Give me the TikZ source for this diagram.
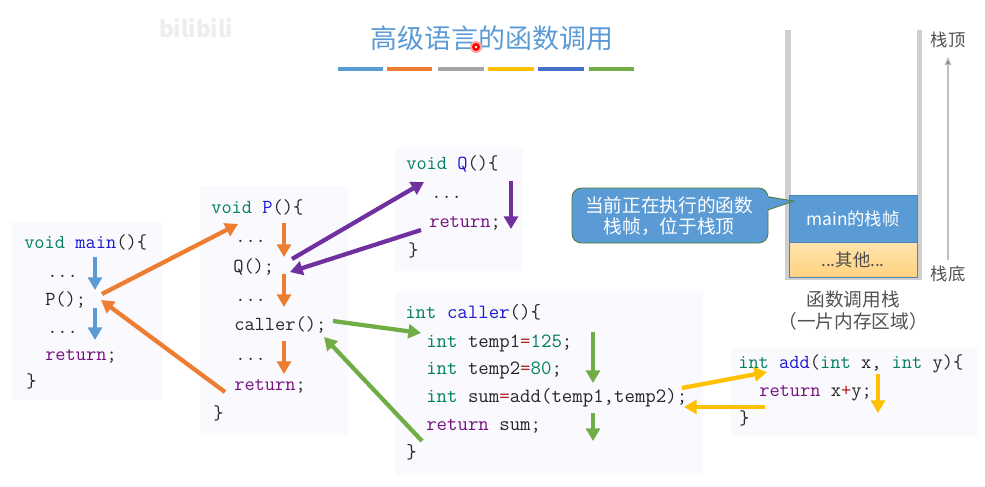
\documentclass[tikz,border=0pt]{standalone}
\usepackage{xcolor}
\usepackage{fontspec}
\setmainfont{Noto Sans CJK SC}
\usepackage{tikz}
\usetikzlibrary{arrows.meta}
\definecolor{cblue}{HTML}{5B9BD5}
\definecolor{corange}{HTML}{ED7D31}
\definecolor{cgray}{HTML}{A5A5A5}
\definecolor{cyellow}{HTML}{FFC000}
\definecolor{cdeep}{HTML}{4472C4}
\definecolor{cgreen}{HTML}{70AD47}
\definecolor{cpurple}{HTML}{7030A0}
\definecolor{cdkwc}{HTML}{008060}
\definecolor{cdfnc}{HTML}{1A1AD0}
\definecolor{cdretc}{HTML}{75107F}
\definecolor{cdopc}{HTML}{B02020}
\definecolor{cdbg}{HTML}{FAF9FD}
\definecolor{framea}{HTML}{FFE3AE}
\definecolor{frameb}{HTML}{FFD27F}
\newcommand{\cdkw}[1]{\textcolor{cdkwc}{#1}}
\newcommand{\cdfn}[1]{\textcolor{cdfnc}{#1}}
\newcommand{\cdret}[1]{\textcolor{cdretc}{#1}}
\newcommand{\cdop}[1]{\textcolor{cdopc}{#1}}
\tikzset{
  cdblock/.style={fill=cdbg, draw=none},
  cdline/.style={anchor=base west, inner sep=0pt, text=black!85, font=\fontsize{14.9}{16}\ttfamily},
  cdwide/.style={cdline, font=\fontsize{15.2}{16}\ttfamily},
  flow/.style={line width=3.2pt, line cap=butt, -{Triangle[length=9.5pt,width=10.5pt]}},
  titlebar/.style={line width=3.6pt, line cap=butt},
  wall/.style={fill=black!19, draw=none},
  cjklabel/.style={inner sep=0pt, text=black!68, font=\fontsize{13}{16}\selectfont, align=center},
  stacklabel/.style={cjklabel, font=\fontsize{14}{16.5}\selectfont},
  framebox/.style={inner sep=0pt, text=white, font=\fontsize{13}{17}\selectfont, align=center},
  tipbox/.style={framebox, font=\fontsize{14}{16}\selectfont},
}
\begin{document}
\begin{tikzpicture}[x=0.75pt,y=-0.75pt]
\useasboundingbox (0,0) rectangle (985,486);
\node[inner sep=0pt, text=black!7, font=\fontsize{17}{18}\bfseries] (brand) at (196,28) {bilibili};
\node[inner sep=0pt, text=cblue, font=\fontsize{20.2}{24}\selectfont] (title) at (492,38) {高级语言的函数调用};
\draw[titlebar, cblue] (338,69) -- (383,69);
\draw[titlebar, corange] (387,69) -- (432,69);
\draw[titlebar, cgray] (438,69) -- (484,69);
\draw[titlebar, cyellow] (488,69) -- (534,69);
\draw[titlebar, cdeep] (538,69) -- (584,69);
\draw[titlebar, cgreen] (589,69) -- (634,69);
\fill[red!35] (476,47) circle (6);
\fill[red] (476,47) circle (4);
\fill[white] (476,47) circle (1.4);

\fill[cdblock] (12,222) rectangle (163,400);
\fill[cdblock] (200,186) rectangle (348,435);
\fill[cdblock] (395,147) rectangle (523,271);
\fill[cdblock] (395,291) rectangle (703,475);
\fill[cdblock] (731,348) rectangle (978,436);

\node[cdline] (mainhead) at (24,248) {\cdkw{void} \cdfn{main}()\{};
\node[cdline] (maindots) at (47,277) {...};
\node[cdline] (maincall) at (45,305) {P();};
\node[cdline] (maindotsb) at (47,333) {...};
\node[cdline] (mainret) at (45,360) {\cdret{return};};
\node[cdline] (mainend) at (26,387) {\}};

\node[cdline] (phead) at (211,213) {\cdkw{void} \cdfn{P}()\{};
\node[cdline] (pdots) at (235,242) {...};
\node[cdline] (pcallq) at (233,272) {Q();};
\node[cdline] (pdotsb) at (235,301) {...};
\node[cdline] (pcallc) at (234,330) {caller();};
\node[cdline] (pdotsc) at (235,360) {...};
\node[cdline] (pret) at (234,390) {\cdret{return};};
\node[cdline] (pend) at (213,419) {\}};

\node[cdline] (qhead) at (406,169) {\cdkw{void} \cdfn{Q}()\{};
\node[cdline] (qdots) at (431,198) {...};
\node[cdline] (qret) at (429,227) {\cdret{return};};
\node[cdline] (qend) at (408,256) {\}};

\node[cdwide] (chead) at (405,318) {\cdkw{int} \cdfn{caller}()\{};
\node[cdwide] (ctempa) at (426,347) {\cdkw{int} temp1\cdop{=}\cdkw{125};};
\node[cdwide] (ctempb) at (426,374) {\cdkw{int} temp2\cdop{=}\cdkw{80};};
\node[cdwide] (csum) at (426,402) {\cdkw{int} sum\cdop{=}add(temp1,temp2);};
\node[cdwide] (cret) at (426,430) {\cdret{return} sum;};
\node[cdwide] (cend) at (406,458) {\}};

\node[cdline] (ahead) at (738,368) {\cdkw{int} \cdfn{add}(\cdkw{int} x, \cdkw{int} y)\{};
\node[cdline] (aret) at (759,396) {\cdret{return} x\cdop{+}y;};
\node[cdline] (aend) at (739,424) {\}};

\coordinate (mainstepa) at (95,257);
\coordinate (mainstepb) at (95,290);
\coordinate (mainstepc) at (95,308);
\coordinate (mainstepd) at (95,340);
\draw[flow, cblue] (mainstepa) -- (mainstepb);
\draw[flow, cblue] (mainstepc) -- (mainstepd);

\coordinate (mainout) at (102,294);
\coordinate (pin) at (238,224);
\coordinate (pout) at (225,392);
\coordinate (mainback) at (101,300);
\draw[flow, corange] (mainout) -- (pin);
\draw[flow, corange] (pout) -- (mainback);

\coordinate (pstepa) at (284,223);
\coordinate (pstepb) at (284,257);
\coordinate (pstepc) at (284,274);
\coordinate (pstepd) at (284,307);
\coordinate (pstepe) at (284,341);
\coordinate (pstepf) at (284,374);
\draw[flow, corange] (pstepa) -- (pstepb);
\draw[flow, corange] (pstepc) -- (pstepd);
\draw[flow, corange] (pstepe) -- (pstepf);

\coordinate (qcallout) at (292,259);
\coordinate (qin) at (424,182);
\coordinate (qout) at (421,230);
\coordinate (qback) at (290,272);
\coordinate (qstepa) at (511,181);
\coordinate (qstepb) at (511,229);
\draw[flow, cpurple] (qcallout) -- (qin);
\draw[flow, cpurple] (qout) -- (qback);
\draw[flow, cpurple] (qstepa) -- (qstepb);

\coordinate (ccallout) at (333,321);
\coordinate (cin) at (421,333);
\coordinate (cout) at (422,441);
\coordinate (cback) at (324,337);
\coordinate (cstepa) at (593,332);
\coordinate (cstepb) at (593,383);
\coordinate (cstepc) at (593,413);
\coordinate (cstepd) at (593,441);
\draw[flow, cgreen] (ccallout) -- (cin);
\draw[flow, cgreen] (cout) -- (cback);
\draw[flow, cgreen] (cstepa) -- (cstepb);
\draw[flow, cgreen] (cstepc) -- (cstepd);

\coordinate (acallout) at (682,388);
\coordinate (ain) at (767,372);
\coordinate (aout) at (765,407);
\coordinate (aback) at (684,407);
\coordinate (astepa) at (878,374);
\coordinate (astepb) at (878,413);
\draw[flow, cyellow] (acallout) -- (ain);
\draw[flow, cyellow] (aout) -- (aback);
\draw[flow, cyellow] (astepa) -- (astepb);

\fill[wall] (785,30) rectangle (791,280);
\fill[wall] (917,30) rectangle (922,280);
\fill[wall] (785,277) rectangle (922,280);
\draw[draw=cblue!85!black, fill=cblue, line width=0.5pt] (789.5,195) rectangle (917,242);
\node[framebox] (mainlabel) at (853,219) {main的栈帧};
\draw[draw=cblue!85!black, top color=framea, bottom color=frameb, line width=0.5pt] (789.5,242) rectangle (917,277);
\node[framebox, text=black!70] (otherlabel) at (853,260) {...其他...};

\draw[fill=cblue, draw=cgreen!70!black, line width=0.6pt, rounded corners=7pt] (572,188) -- (768,188) -- (768,243) -- (572,243) -- cycle;
\fill[cblue] (767,196) -- (794,201) -- (767,210) -- cycle;
\draw[cgreen!70!black, line width=0.6pt] (768,197) -- (794,201) -- (768,210);
\node[tipbox] (tiplabel) at (669,216) {当前正在执行的函数\\栈帧，位于栈顶};

\node[cjklabel] (stacktop) at (948,40) {栈顶};
\node[cjklabel] (stackbase) at (948,274) {栈底};
\coordinate (growfrom) at (948,260);
\coordinate (growto) at (948,57);
\draw[black!25, line width=0.8pt, -{Triangle[length=6pt,width=5pt,fill=black!50]}] (growfrom) -- (growto);
\node[stacklabel] (stackname) at (853,311) {函数调用栈\\（一片内存区域）};
\end{tikzpicture}
\end{document}
